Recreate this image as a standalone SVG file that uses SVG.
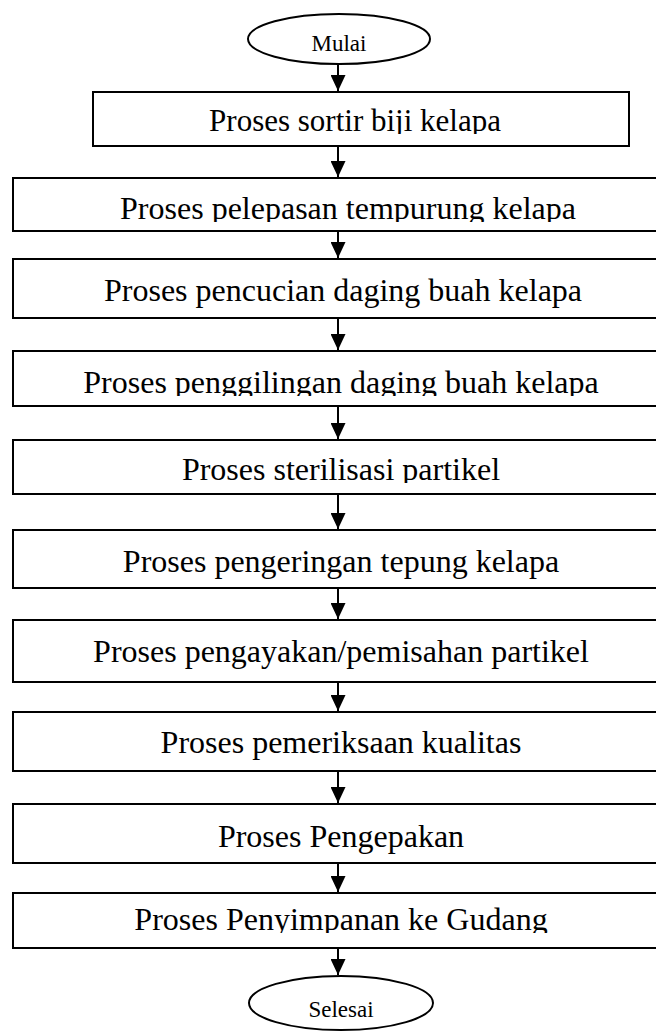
<svg xmlns="http://www.w3.org/2000/svg" width="656" height="1032" viewBox="0 0 656 1032">
<style>
.box{fill:#fff;stroke:#000;stroke-width:2}
.term{fill:#fff;stroke:#000;stroke-width:2}
.lbl{font-family:"Liberation Serif","Times New Roman",serif;font-size:32px;fill:#000;text-anchor:middle}
.tl{font-family:"Liberation Serif","Times New Roman",serif;font-size:23px;fill:#000;text-anchor:middle}
.con{stroke:#000;stroke-width:2;fill:none}
</style>
<defs>
<marker id="ah" markerUnits="userSpaceOnUse" markerWidth="16" markerHeight="15" refX="16" refY="7.5" orient="auto" viewBox="0 0 16 15">
<path d="M0,0 L16,7.5 L0,15 Z" fill="#000"/>
</marker>
<clipPath id="c0"><rect x="200" y="14" width="300" height="37"/></clipPath>
<clipPath id="c1"><rect x="90" y="92" width="560" height="42"/></clipPath>
<clipPath id="c2"><rect x="0" y="178" width="656" height="44"/></clipPath>
<clipPath id="c4"><rect x="0" y="351" width="656" height="45"/></clipPath>
<clipPath id="c5"><rect x="0" y="440" width="656" height="43"/></clipPath>
<clipPath id="c10"><rect x="0" y="893" width="656" height="40"/></clipPath>
</defs>
<g id="connectors">
<line class="con" x1="338" y1="64" x2="338" y2="91" marker-end="url(#ah)"/>
<line class="con" x1="338" y1="146" x2="338" y2="177" marker-end="url(#ah)"/>
<line class="con" x1="338" y1="231" x2="338" y2="258" marker-end="url(#ah)"/>
<line class="con" x1="338" y1="318" x2="338" y2="350" marker-end="url(#ah)"/>
<line class="con" x1="338" y1="406" x2="338" y2="439" marker-end="url(#ah)"/>
<line class="con" x1="338" y1="494" x2="338" y2="529" marker-end="url(#ah)"/>
<line class="con" x1="338" y1="588" x2="338" y2="619" marker-end="url(#ah)"/>
<line class="con" x1="338" y1="682" x2="338" y2="711" marker-end="url(#ah)"/>
<line class="con" x1="338" y1="771" x2="338" y2="803" marker-end="url(#ah)"/>
<line class="con" x1="338" y1="863" x2="338" y2="892" marker-end="url(#ah)"/>
<line class="con" x1="338" y1="948" x2="338" y2="975" marker-end="url(#ah)"/>
</g>
<g id="mulai">
<ellipse class="term" cx="339" cy="39" rx="91" ry="25"/>
<text class="tl" x="339" y="51" clip-path="url(#c0)">Mulai</text>
</g>
<g id="n1">
<rect class="box" x="93" y="92" width="536" height="54"/>
<text class="lbl" x="355" y="131" style="font-size:31px" clip-path="url(#c1)">Proses sortir biji kelapa</text>
</g>
<g id="n2">
<rect class="box" x="13" y="178" width="700" height="53"/>
<text class="lbl" x="348" y="219" clip-path="url(#c2)">Proses pelepasan tempurung kelapa</text>
</g>
<g id="n3">
<rect class="box" x="13" y="259" width="700" height="59"/>
<text class="lbl" x="343" y="301">Proses pencucian daging buah kelapa</text>
</g>
<g id="n4">
<rect class="box" x="13" y="351" width="700" height="55"/>
<text class="lbl" x="341" y="393" clip-path="url(#c4)">Proses penggilingan daging buah kelapa</text>
</g>
<g id="n5">
<rect class="box" x="13" y="440" width="700" height="54"/>
<text class="lbl" x="341" y="480" clip-path="url(#c5)">Proses sterilisasi partikel</text>
</g>
<g id="n6">
<rect class="box" x="13" y="530" width="700" height="58"/>
<text class="lbl" x="341" y="572">Proses pengeringan tepung kelapa</text>
</g>
<g id="n7">
<rect class="box" x="13" y="620" width="700" height="62"/>
<text class="lbl" x="341" y="662">Proses pengayakan/pemisahan partikel</text>
</g>
<g id="n8">
<rect class="box" x="13" y="712" width="700" height="59"/>
<text class="lbl" x="341" y="753">Proses pemeriksaan kualitas</text>
</g>
<g id="n9">
<rect class="box" x="13" y="804" width="700" height="59"/>
<text class="lbl" x="341" y="847">Proses Pengepakan</text>
</g>
<g id="n10">
<rect class="box" x="13" y="893" width="700" height="55"/>
<text class="lbl" x="341" y="930" clip-path="url(#c10)">Proses Penyimpanan ke Gudang</text>
</g>
<g id="selesai">
<ellipse class="term" cx="341" cy="1003" rx="92" ry="27"/>
<text class="tl" x="341" y="1017">Selesai</text>
</g>
</svg>
